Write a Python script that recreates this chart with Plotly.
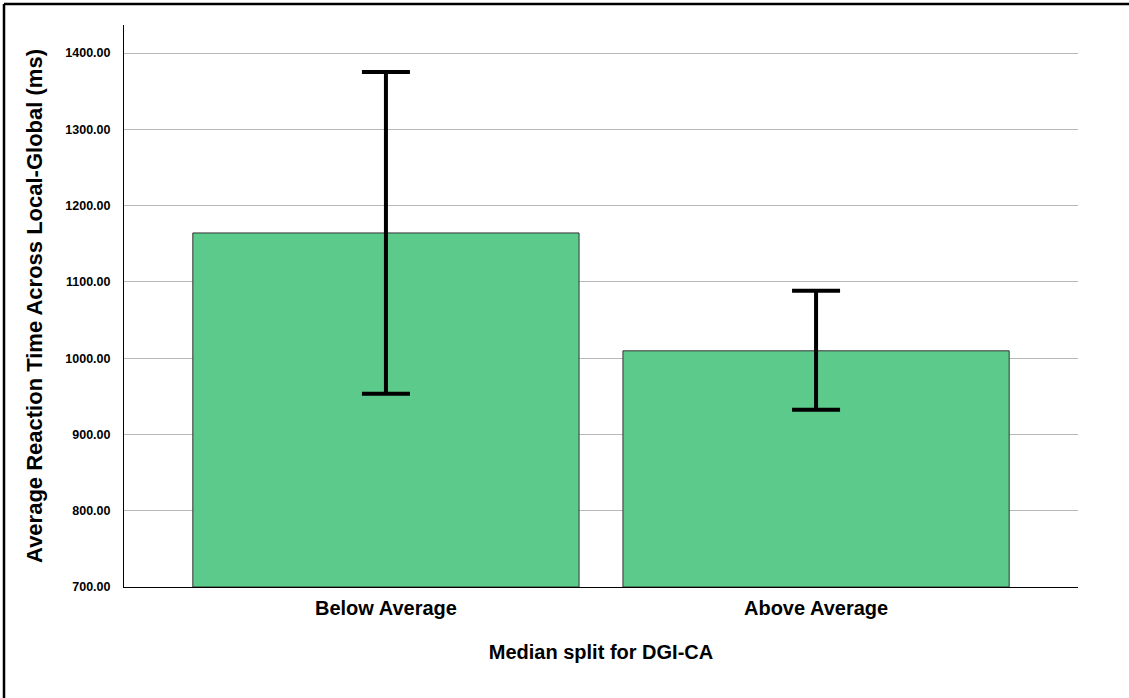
import plotly.graph_objects as go

categories = ["Below Average", "Above Average"]
means = [1164.1, 1009.6]
err_upper = [1375.0, 1088.2]
err_lower = [953.2, 932.2]
y_ticks = [700, 800, 900, 1000, 1100, 1200, 1300, 1400]

plus = [u - m for u, m in zip(err_upper, means)]
minus = [m - l for m, l in zip(means, err_lower)]

fig = go.Figure(go.Bar(
    x=[0, 1], y=[m - 700 for m in means], base=700,
    width=0.898,
    marker=dict(color="#5CCA8A", line=dict(color="#333333", width=1)),
    error_y=dict(type="data", symmetric=False, array=plus, arrayminus=minus,
                 color="black", thickness=4, width=24),
    hoverinfo="skip",
))

font_fam = "Liberation Sans, Arial, sans-serif"
fx0 = -120 / 954
fx1 = 1 + 51 / 954
fy1 = 1 + 21 / 562
fig.update_layout(
    width=1129, height=698,
    margin=dict(l=124, r=51, t=25, b=111),
    paper_bgcolor="white", plot_bgcolor="white",
    showlegend=False,
    font=dict(family=font_fam, color="black"),
    xaxis=dict(
        range=[-0.609, 1.609], tickvals=[0, 1], ticktext=categories,
        showgrid=False, showline=True, linecolor="black", linewidth=1,
        ticks="", tickfont=dict(size=20, family=font_fam, weight="bold"),
        ticklabelstandoff=3,
        title=dict(text="<b>Median split for DGI-CA</b>", font=dict(size=20), standoff=26),
        zeroline=False,
    ),
    yaxis=dict(
        range=[700, 1436.7], tickvals=y_ticks, tickformat=".2f",
        showgrid=True, gridcolor="#B8B8B8", gridwidth=1.3,
        showline=True, linecolor="black", linewidth=1,
        ticks="", tickfont=dict(size=12.5, family=font_fam, weight="bold"),
        ticklabelstandoff=10,
        title=dict(text="<b>Average Reaction Time Across Local-Global (ms)</b>",
                   font=dict(size=22), standoff=16),
        zeroline=False,
    ),
    shapes=[
        dict(type="line", xref="paper", yref="paper", x0=fx0, x1=fx1, y0=fy1, y1=fy1,
             line=dict(color="black", width=2.5), layer="below"),
        dict(type="line", xref="paper", yref="paper", x0=fx0, x1=fx0, y0=-0.3, y1=fy1,
             line=dict(color="black", width=2.5), layer="below"),
    ],
)

fig.write_html("out.html", config={"displayModeBar": False},
               post_script="document.body.style.margin='0';document.body.style.overflow='hidden';")
